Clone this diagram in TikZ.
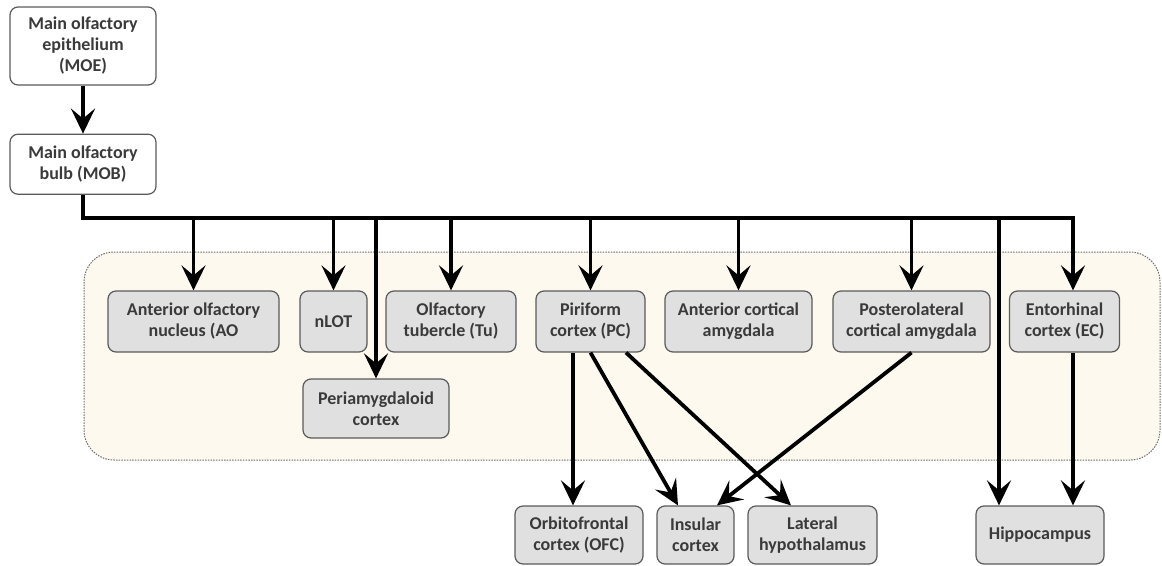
\documentclass[tikz,border=0pt]{standalone}
\usepackage{fontspec}
\setmainfont{Carlito}
\usetikzlibrary{arrows.meta, positioning}
\definecolor{boxfill}{HTML}{E0E0E0}
\definecolor{boxline}{HTML}{5A5A5A}
\definecolor{zonefill}{HTML}{FDF9EE}
\definecolor{txtgray}{HTML}{3A3A3A}

\begin{document}
\begin{tikzpicture}[
    x=1pt, y=-1pt,
    font=\fontsize{18}{21}\selectfont\bfseries,
    brainbox/.style={rectangle, draw=boxline, line width=1.2pt, rounded corners=8pt,
                     align=center, text=txtgray, fill=boxfill, inner sep=0pt,
                     minimum height=61pt},
    entrybox/.style={brainbox, fill=white},
    arr/.style={-{Stealth[length=25pt, width=24pt, inset=10pt]}, line width=3.8pt},
    zone/.style={draw=gray!85!black, dash pattern=on 1.5pt off 1.2pt, line width=1pt,
                 rounded corners=30pt, fill=zonefill},
]
\useasboundingbox (0,0) rectangle (1162,565);

% shaded cortical region
\draw[zone] (84,252) rectangle (1160,460);

\node[entrybox, minimum width=146pt, minimum height=78pt] (moe) at (83,46)
     {Main olfactory\\epithelium\\(MOE)};
\node[entrybox, minimum width=146pt, minimum height=60pt, below=48pt of moe] (mob)
     {Main olfactory\\bulb (MOB)};

\node[brainbox, minimum width=171pt] (ao)   at (193.5,321.5) {Anterior olfactory\\nucleus (AO};
\node[brainbox, minimum width=67pt]  (nlot) at (333.5,321.5) {nLOT};
\node[brainbox, minimum width=130pt] (tu)   at (451,321.5)   {Olfactory\\tubercle (Tu)};
\node[brainbox, minimum width=109pt] (pc)   at (590.5,321.5) {Piriform\\cortex (PC)};
\node[brainbox, minimum width=147pt] (aca)  at (738.5,321.5) {Anterior cortical\\amygdala};
\node[brainbox, minimum width=157pt] (plca) at (911.5,321.5) {Posterolateral\\cortical amygdala};
\node[brainbox, minimum width=110pt] (ec)   at (1064.5,321.5) {Entorhinal\\cortex (EC)};

\node[brainbox, minimum width=146pt, minimum height=59pt] (peri) at (376,408.5)
     {Periamygdaloid\\cortex};

\node[brainbox, minimum width=128pt, minimum height=58pt] (ofc) at (579,535)
     {Orbitofrontal\\cortex (OFC)};
\node[brainbox, minimum width=77pt,  minimum height=58pt] (ins) at (695.5,535)
     {Insular\\cortex};
\node[brainbox, minimum width=129pt, minimum height=58pt] (lh)  at (812.5,535)
     {Lateral\\hypothalamus};
\node[brainbox, minimum width=128pt, minimum height=58pt] (hip) at (1040,535)
     {Hippocampus};

\coordinate (busend) at (1073,218);
\coordinate (hiptap) at (999,218);

\draw[arr] (moe) -- (mob);
\draw[arr] (mob.south) |- (busend) -- (busend |- ec.north);

\draw[arr] (ao.north |- busend)   -- (ao.north);
\draw[arr] (nlot.north |- busend) -- (nlot.north);
\draw[arr] (peri.north |- busend) -- (peri.north);
\draw[arr] (tu.north |- busend)   -- (tu.north);
\draw[arr] (pc.north |- busend)   -- (pc.north);
\draw[arr] (aca.north |- busend)  -- (aca.north);
\draw[arr] (plca.north |- busend) -- (plca.north);
\draw[arr] (hiptap) -- (hiptap |- hip.north);

\draw[arr] ([xshift=-17.5pt]pc.south) -- ([xshift=-6pt]ofc.north);
\draw[arr] (pc.south) -- ([xshift=-17.5pt]ins.north);
\draw[arr] ([xshift=35.5pt]pc.south) -- ([xshift=-21.5pt]lh.north);
\draw[arr] (plca.south) -- ([xshift=21.5pt]ins.north);
\draw[arr] (ec.south -| busend) -- (hip.north -| busend);

\end{tikzpicture}
\end{document}
